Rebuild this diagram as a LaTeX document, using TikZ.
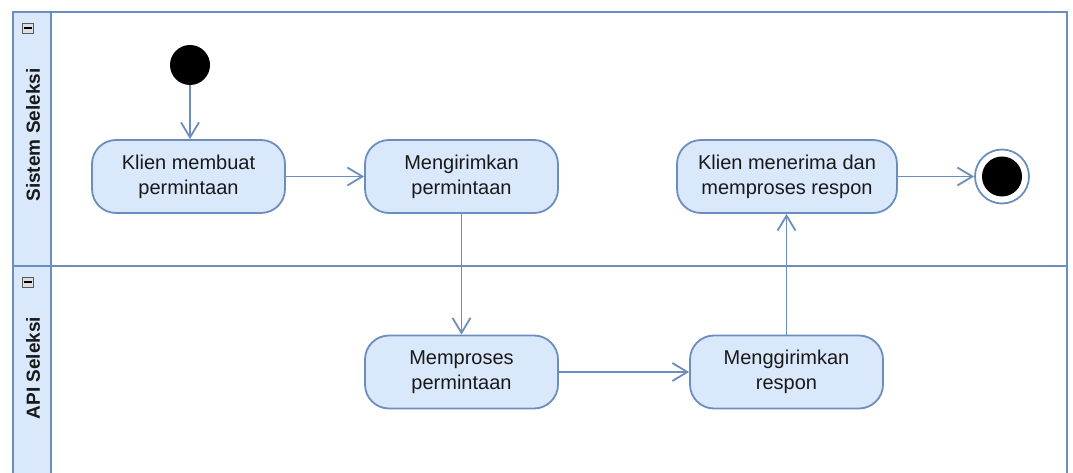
\documentclass[tikz,border=0pt]{standalone}
\usepackage{fontspec}
\setmainfont{Liberation Sans}
\usetikzlibrary{arrows.meta}
\definecolor{bstroke}{HTML}{6C8EBF}
\definecolor{bfill}{HTML}{DAE8FC}
\tikzset{
  act/.style={draw=bstroke, fill=bfill, line width=1.8pt, rounded corners=24pt,
    minimum width=193pt, minimum height=73pt, align=center, inner sep=0pt,
    font=\fontsize{20}{25}\selectfont, text=black!90},
  flow/.style={draw=bstroke, line width=1.8pt, -{Straight Barb[length=15pt,width=18pt,line width=1.8pt]}},
  lanetitle/.style={rotate=90, font=\bfseries\fontsize{19}{23}\selectfont, text=black!90},
  minusbox/.style={draw=gray!70!black, fill=gray!25, line width=0.7pt, minimum width=11pt, minimum height=10pt, inner sep=0pt}
}
\begin{document}
\begin{tikzpicture}[x=1pt, y=-1pt]
\useasboundingbox (0,0) rectangle (1073,473);
% pool
\fill[bfill] (13,12) rectangle (51,480);
\draw[bstroke, line width=1.8pt] (13,480) -- (13,12) -- (1067,12) -- (1067,480);
\draw[bstroke, line width=1.8pt] (51,12) -- (51,480);
\draw[bstroke, line width=1.8pt] (13,266) -- (1067,266);
% minus icons
\node[minusbox] (m1) at (28,28) {};
\draw[black, line width=1.4pt] (24,28) -- (32,28);
\node[minusbox] (m2) at (28,282) {};
\draw[black, line width=1.4pt] (24,282) -- (32,282);
% lane titles
\node[lanetitle] (l1) at (33,135) {Sistem Seleksi};
\node[lanetitle] (l2) at (33,368) {API Seleksi};
% nodes
\node[circle, fill=black, minimum size=40pt, inner sep=0pt] (start) at (190,65) {};
\node[act] (a1) at (188.5,176.5) {Klien membuat\\permintaan};
\node[act] (a2) at (461.5,176.5) {Mengirimkan\\permintaan};
\node[act, minimum width=220pt] (a3) at (787,176.5) {Klien menerima dan\\memproses respon};
\node[act] (a4) at (461.5,372) {Memproses\\permintaan};
\node[act] (a5) at (786.5,372) {Menggirimkan\\respon};
\node[circle, draw=bstroke, fill=white, line width=1.8pt, minimum size=54pt, inner sep=0pt] (end) at (1002,176.5) {};
\node[circle, fill=black, minimum size=40pt, inner sep=0pt] (endin) at (end.center) {};
% flows
\draw[flow] (start) -- (start |- a1.north);
\draw[flow] (a1) -- (a2);
\draw[flow] (a2) -- (a4);
\draw[flow] (a4) -- (a5);
\draw[flow] (a5) -- (a5 |- a3.south);
\draw[flow] (a3) -- (end);
\end{tikzpicture}
\end{document}
